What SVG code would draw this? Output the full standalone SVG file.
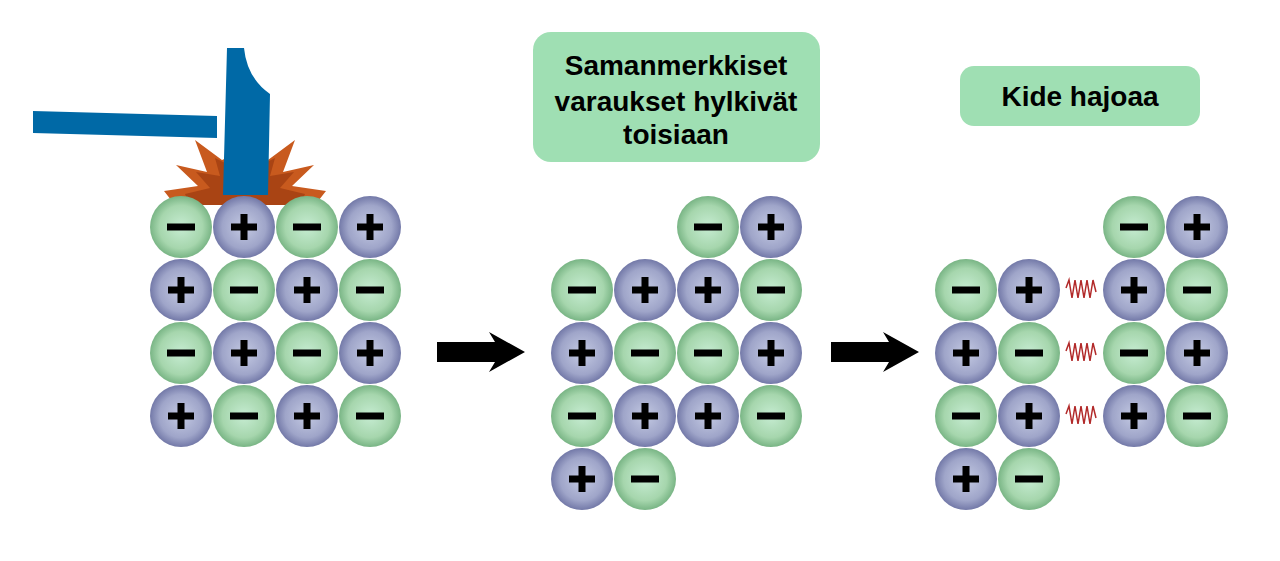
<svg xmlns="http://www.w3.org/2000/svg" width="1280" height="561" viewBox="0 0 1280 561">
<defs>
<radialGradient id="gg" cx="0.5" cy="0.5" r="0.5"><stop offset="0" stop-color="#c6ecd2"/><stop offset="0.7" stop-color="#a6d6ad"/><stop offset="1" stop-color="#79b585"/></radialGradient>
<radialGradient id="gb" cx="0.5" cy="0.5" r="0.5"><stop offset="0" stop-color="#c4cae3"/><stop offset="0.7" stop-color="#9fa5c9"/><stop offset="1" stop-color="#7379a8"/></radialGradient>
<g id="m"><circle r="31" fill="url(#gg)"/><rect x="-14" y="-3.5" width="28" height="7" fill="#000"/></g>
<g id="p"><circle r="31" fill="url(#gb)"/><rect x="-13" y="-3.5" width="26" height="7" fill="#000"/><rect x="-3.5" y="-13" width="7" height="26" fill="#000"/></g>
<polygon id="arr" points="0,-10 58,-10 52,-20 88,0 52,20 58,10 0,10" fill="#000"/>
<polyline id="zz" points="0,-2 3,-10 6,8 9,-10 12,8 15,-10 18,8 21,-10 24,8 27,-10 30,2" fill="none" stroke="#b22a2a" stroke-width="1.5"/>
</defs>
<style>.lbl{font-family:"Liberation Sans",Arial,sans-serif;font-weight:bold;font-size:28px;fill:#000;text-anchor:middle}</style>
<rect width="1280" height="561" fill="#fff"/>
<g id="hammer">
<polygon points="175,205 164,191 198,186 176,165 207,172 195,140 222,160 245,150 268,160 295,140 283,172 314,165 292,186 326,191 315,205" fill="#c85a1e"/>
<polygon points="190,205 185,194 210,188 196,172 220,176 215,158 235,168 255,168 275,158 270,176 294,172 280,188 305,194 300,205" fill="#a94414"/>
<polygon points="33,111 217,116 217,138 33,133" fill="#0069a6"/>
<path d="M227,48 L244,48 Q247,78 270,94 L268,195 L223,195 Z" fill="#0069a6"/>
</g>
<g id="grid1">
<use href="#m" x="181" y="227"/><use href="#p" x="244" y="227"/><use href="#m" x="307" y="227"/><use href="#p" x="370" y="227"/>
<use href="#p" x="181" y="290"/><use href="#m" x="244" y="290"/><use href="#p" x="307" y="290"/><use href="#m" x="370" y="290"/>
<use href="#m" x="181" y="353"/><use href="#p" x="244" y="353"/><use href="#m" x="307" y="353"/><use href="#p" x="370" y="353"/>
<use href="#p" x="181" y="416"/><use href="#m" x="244" y="416"/><use href="#p" x="307" y="416"/><use href="#m" x="370" y="416"/>
</g>
<g id="grid2">
<use href="#m" x="708" y="227"/><use href="#p" x="771" y="227"/>
<use href="#m" x="582" y="290"/><use href="#p" x="645" y="290"/><use href="#p" x="708" y="290"/><use href="#m" x="771" y="290"/>
<use href="#p" x="582" y="353"/><use href="#m" x="645" y="353"/><use href="#m" x="708" y="353"/><use href="#p" x="771" y="353"/>
<use href="#m" x="582" y="416"/><use href="#p" x="645" y="416"/><use href="#p" x="708" y="416"/><use href="#m" x="771" y="416"/>
<use href="#p" x="582" y="479"/><use href="#m" x="645" y="479"/>
</g>
<g id="grid3">
<use href="#m" x="1134" y="227"/><use href="#p" x="1197" y="227"/>
<use href="#m" x="966" y="290"/><use href="#p" x="1029" y="290"/><use href="#p" x="1134" y="290"/><use href="#m" x="1197" y="290"/>
<use href="#p" x="966" y="353"/><use href="#m" x="1029" y="353"/><use href="#m" x="1134" y="353"/><use href="#p" x="1197" y="353"/>
<use href="#m" x="966" y="416"/><use href="#p" x="1029" y="416"/><use href="#p" x="1134" y="416"/><use href="#m" x="1197" y="416"/>
<use href="#p" x="966" y="479"/><use href="#m" x="1029" y="479"/>
</g>
<g id="connectors">
<use href="#arr" x="437" y="352"/><use href="#arr" x="831" y="352"/>
<use href="#zz" x="1066" y="290"/><use href="#zz" x="1066" y="353"/><use href="#zz" x="1066" y="416"/>
</g>
<g id="box1"><rect x="533" y="32" width="287" height="130" rx="18" fill="#9fdfb3"/>
<text class="lbl" x="676" y="75">Samanmerkkiset</text><text class="lbl" x="676" y="111">varaukset hylkivät</text><text class="lbl" x="676" y="144">toisiaan</text></g>
<g id="box2"><rect x="960" y="66" width="240" height="60" rx="14" fill="#9fdfb3"/>
<text class="lbl" x="1080" y="106">Kide hajoaa</text></g>
</svg>
